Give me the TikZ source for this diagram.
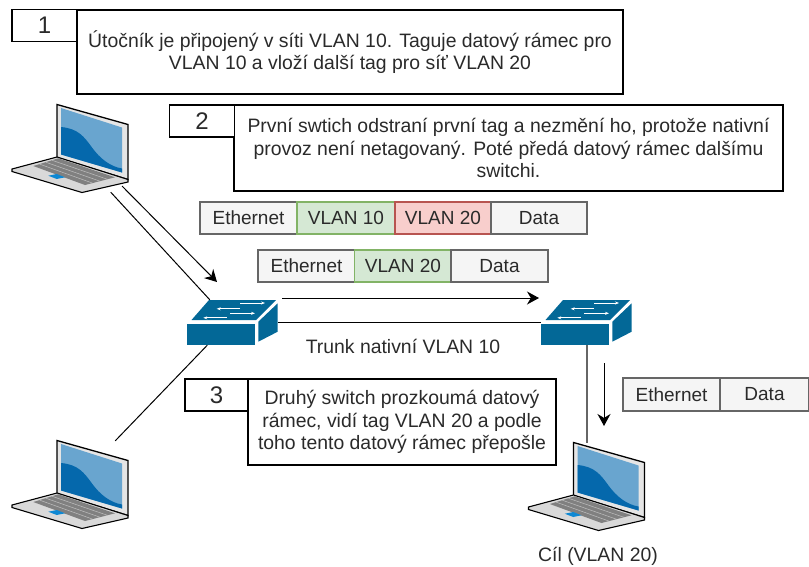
\documentclass[tikz,border=0pt]{standalone}
\usepackage{fontspec}
\setmainfont{Liberation Sans}
\usepackage{tikz}
\usetikzlibrary{arrows.meta}
\definecolor{swblue}{HTML}{036897}
\definecolor{lightblue}{HTML}{69A5CF}
\definecolor{darkblue}{HTML}{0568AC}
\definecolor{greenfill}{HTML}{D5E8D4}
\definecolor{greenline}{HTML}{82B366}
\definecolor{redfill}{HTML}{F8CECC}
\definecolor{redline}{HTML}{B85450}
\definecolor{greyfill}{HTML}{F5F5F5}
\definecolor{greyline}{HTML}{666666}
\definecolor{ink}{HTML}{2A2A2A}

\tikzset{
	laptop/.pic={
		\draw[black,line width=1.3,fill=black!10] (-13,-44) -- (58,-24) -- (58,31) -- (-13,9) -- cycle;
		\fill[lightblue] (-9,-40.5) -- (52,-21) -- (52,24) -- (-9,6) -- cycle;
		\fill[darkblue] (-9,-21.5) .. controls (8,-20) and (14,-12) .. (22,-1) .. controls (30,10) and (40,18) .. (52,20) -- (52,24) -- (-9,6) -- cycle;
		\draw[black,line width=1.1,fill=black!15] (-58,20.5) -- (-13,8.5) -- (58,31) -- (58,33.5) -- (12,44) -- (-58,23) -- cycle;
		\fill[black!50] (-11.7,9.8) -- (45,28.8) -- (15,36.5) -- (-36.7,17.5) -- cycle;
		\foreach \i in {1,2,3}
		\draw[black!25,line width=.5] ({-36.7+\i*6.25},{17.5-\i*1.9}) -- ({15+\i*7.5},{36.5-\i*1.9});
		\fill[cyan!70!blue] (-21.7,27.2) -- (-13.3,25.5) -- (-5,28.8) -- (-13.3,30.5) -- cycle;
	},
	switchbox/.pic={
		\fill[swblue] (-23.5,-22.5) -- (43.5,-22.5) -- (23.5,-2.5) -- (-41,-2.5) -- cycle;
		\fill[swblue] (-45.5,1) rectangle (22.5,22.5);
		\fill[swblue] (25.8,-0.8) -- (45.2,-19.2) -- (45.2,9.2) -- (25.8,19.2) -- cycle;
		\foreach \from/\to/\level in {7.5/32.5/-19.5,7.5/-15.8/-13.7,-2.5/22.5/-9.2,-5.8/-29.2/-4.7}
		\draw[white,line width=.8,-{Stealth[length=4,width=3]}] (\from,\level) -- (\to,\level);
	},
}

\begin{document}
\begin{tikzpicture}
	[x=1pt,y=-1pt,every node/.style={inner sep=0,text=ink,font=\fontsize{19.4}{22.5}\selectfont},
	devbox/.style={rectangle},
	cellgrey/.style={draw=greyline,fill=greyfill,line width=1.2,minimum height=32,font=\fontsize{19}{22}\selectfont},
	cellgreen/.style={draw=greenline,fill=greenfill,line width=1.2,minimum height=32,font=\fontsize{19}{22}\selectfont},
	cellred/.style={draw=redline,fill=redfill,line width=1.2,minimum height=32,font=\fontsize{19}{22}\selectfont},
	numbox/.style={draw=black,fill=white,line width=1.2,minimum width=65,minimum height=32,font=\fontsize{24}{24}\selectfont},
	textbox/.style={draw=black,fill=white,line width=1.2,align=center},
	flow/.style={black,line width=1,-{Stealth[length=12,width=13]}},
	link/.style={black,line width=1}]
	\useasboundingbox (0,0) rectangle (809,566);

	\node[textbox,minimum width=546,minimum height=84] (text1) at (350,52) {Útočník je připojený v síti VLAN 10. Taguje datový rámec pro\\VLAN 10 a vloží další tag pro síť VLAN 20};
	\node[numbox] (num1) at (44.5,25.5) {1};
	\node[textbox,minimum width=549,minimum height=86] (text2) at (508.5,148) {První swtich odstraní první tag a nezmění ho, protože nativní\\provoz není netagovaný. Poté předá datový rámec dalšímu\\switchi.};
	\node[numbox] (num2) at (202,121) {2};
	\node[textbox,minimum width=308,minimum height=86] (text3) at (402,422) {Druhý switch prozkoumá datový\\rámec, vidí tag VLAN 20 a podle\\toho tento datový rámec přepošle};
	\node[numbox,minimum width=63] (num3) at (216.5,395) {3};

	\node[cellgrey,minimum width=97] (eth1) at (248.5,218) {Ethernet};
	\node[cellgreen,minimum width=98] (vlan1) at (346,218) {VLAN 10};
	\node[cellred,minimum width=96] (vlan2) at (443,218) {VLAN 20};
	\node[cellgrey,minimum width=96] (data1) at (539,218) {Data};

	\node[cellgrey,minimum width=97] (eth2) at (306.5,266) {Ethernet};
	\node[cellgreen,minimum width=97] (vlan3) at (403,266) {VLAN 20};
	\node[cellgrey,minimum width=97] (data2) at (499.5,266) {Data};

	\node[cellgrey,minimum width=97,minimum height=33] (eth3) at (671.5,394.5) {Ethernet};
	\node[cellgrey,minimum width=89,minimum height=33] (data3) at (764.5,394.5) {Data};

	\node[devbox,minimum width=116,minimum height=87] (pc1) at (70,148.5) {};
	\node[devbox,minimum width=116,minimum height=87] (pc2) at (70,484.5) {};
	\node[devbox,minimum width=116,minimum height=87] (pc3) at (586.5,486.5) {};
	\node[devbox,minimum width=91,minimum height=45] (sw1) at (232.5,322.5) {};
	\node[devbox,minimum width=91,minimum height=45] (sw2) at (586.5,322.5) {};

	\pic at (pc1) {laptop};
	\pic at (pc2) {laptop};
	\pic at (pc3) {laptop};
	\pic at (sw1) {switchbox};
	\pic at (sw2) {switchbox};

	\node (trunk) at (403,346) {Trunk nativní VLAN 10};
	\node (target) at (598,556) {Cíl (VLAN 20)};

	\coordinate (a1) at (122,186);
	\coordinate (a2) at (217,282);
	\coordinate (b1) at (282,298);
	\coordinate (b2) at (539,298);
	\coordinate (c1) at (604,363);
	\coordinate (c2) at (604,426);

	\foreach \from/\to in {pc1.-47.4/sw1.135,pc2.44/sw1.222.6,sw1.east/sw2.west}
	\draw[link] (\from) -- (\to);
	\draw[greyline,line width=2] (sw2.south) -- (pc3.north);
	\foreach \from/\to in {a1/a2,b1/b2,c1/c2}
	\draw[flow] (\from) -- (\to);
\end{tikzpicture}
\end{document}
